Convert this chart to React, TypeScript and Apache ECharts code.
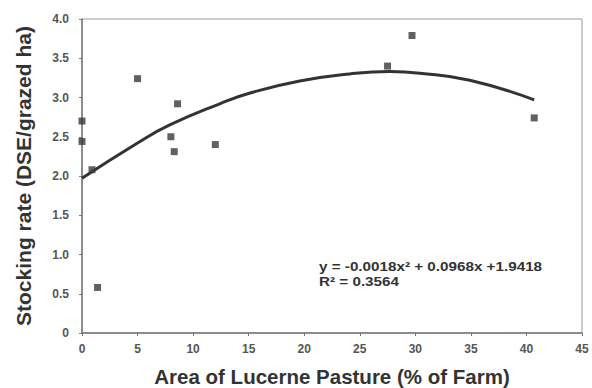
import React, { useEffect, useRef } from "react";
import * as echarts from "echarts";

const pointsX = [0, 0, 0.9, 1.4, 5.0, 8.0, 8.3, 8.6, 12.0, 27.5, 29.7, 40.7];
const pointsY = [2.7, 2.44, 2.08, 0.58, 3.24, 2.5, 2.31, 2.92, 2.4, 3.4, 3.79, 2.74];

const trendX = [0, 5, 7.9, 12.4, 15.2, 19.6, 24.1, 27.7, 30.4, 34.9, 40.7];
const trendY = [1.97, 2.42, 2.65, 2.92, 3.06, 3.21, 3.3, 3.33, 3.31, 3.22, 2.97];

const xTitle = "Area of Lucerne Pasture (% of Farm)";
const yTitle = "Stocking rate (DSE/grazed ha)";
const eqLine1 = "y = -0.0018x² + 0.0968x +1.9418";
const eqLine2 = "R² = 0.3564";

export default function App() {
  const ref = useRef<HTMLDivElement>(null);
  useEffect(() => {
    if (!ref.current) return;
    const chart = echarts.init(ref.current, null, { renderer: "svg" });
    const font = "'Liberation Sans', Arial, sans-serif";
    chart.setOption({
      animation: false,
      backgroundColor: "#ffffff",
      grid: {
        left: 82,
        right: 10,
        top: 19,
        bottom: 55,
        outerBoundsMode: "none",
        containLabel: false,
        show: true,
        borderColor: "#9a9a9a",
        borderWidth: 1,
      },
      xAxis: {
        type: "value",
        min: 0,
        max: 45,
        interval: 5,
        name: xTitle,
        nameLocation: "middle",
        nameGap: 33,
        nameTextStyle: { fontFamily: font, fontSize: 20.5, fontWeight: "bold", color: "#333" },
        axisLine: { show: true, lineStyle: { color: "#777", width: 1.5 } },
        axisTick: { show: true, length: 3, lineStyle: { color: "#777" } },
        axisLabel: { fontFamily: font, fontSize: 12, fontWeight: "bold", color: "#555", margin: 10 },
        splitLine: { show: false },
      },
      yAxis: {
        type: "value",
        min: 0,
        max: 4,
        interval: 0.5,
        axisLine: { show: true, lineStyle: { color: "#777", width: 1.5 } },
        axisTick: { show: true, length: 3, lineStyle: { color: "#777" } },
        axisLabel: {
          fontFamily: font,
          fontSize: 12,
          fontWeight: "bold",
          color: "#555",
          margin: 13,
          formatter: (v: number) => (v === 0 ? "0" : v.toFixed(1)),
        },
        splitLine: { show: false },
      },
      series: [
        {
          type: "line",
          data: trendX.map((x, i) => [x, trendY[i]]),
          smooth: true,
          showSymbol: false,
          symbol: "none",
          lineStyle: { color: "#333", width: 3 },
          z: 2,
        },
        {
          type: "scatter",
          data: pointsX.map((x, i) => [x, pointsY[i]]),
          symbol: "rect",
          symbolSize: 7,
          itemStyle: { color: "#3a3a3a" },
          clip: false,
          z: 3,
        },
      ],
      graphic: [
        {
          type: "text",
          x: 23,
          y: 176,
          rotation: Math.PI / 2,
          style: {
            text: yTitle,
            fontFamily: font,
            fontSize: 21,
            fontWeight: "bold",
            fill: "#333",
            align: "center",
            verticalAlign: "middle",
          },
        },
        {
          type: "text",
          x: 319,
          y: 260,
          scaleX: 1.27,
          style: {
            text: eqLine1 + "\n" + eqLine2,
            fontFamily: font,
            fontSize: 12,
            fontWeight: "bold",
            fill: "#333",
            lineHeight: 15,
          },
        },
      ],
    });
    return () => chart.dispose();
  }, []);
  return <div ref={ref} style={{ width: 592, height: 388, position: "absolute", left: 0, top: 0 }} />;
}
